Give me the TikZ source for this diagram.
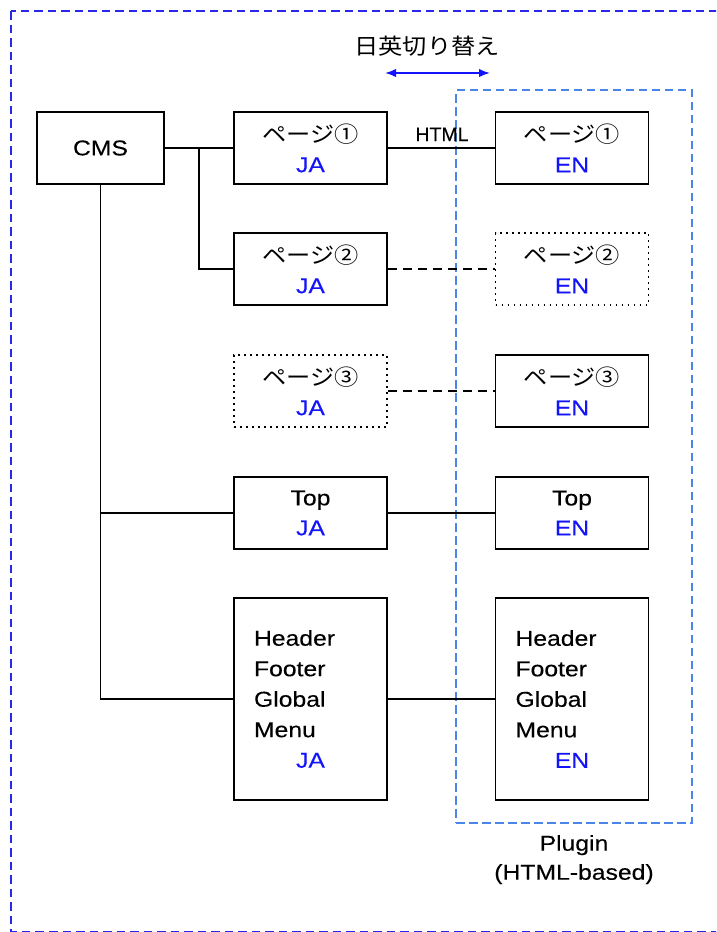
\documentclass[tikz,border=0pt]{standalone}
\usepackage{fontspec}
\setmainfont{Liberation Sans}[FakeStretch=1.15,FakeBold=0.25]
\newfontfamily\plainsans{Liberation Sans}[FakeBold=0.25]
\newfontfamily\jpfont{Noto Sans CJK JP}[FakeStretch=1.1]
\usetikzlibrary{arrows.meta}

\definecolor{langblue}{RGB}{20,20,250}
\definecolor{frameblue}{RGB}{40,40,235}
\definecolor{pluginblue}{RGB}{74,134,232}

% page label: Japanese word plus circled number
\newcommand\pg[1]{{\fontsize{22}{30}\jpfont ページ#1}}
\newcommand\lang[1]{\textcolor{langblue}{#1}}

\begin{document}
\begin{tikzpicture}[x=1pt,y=-1pt,
  box/.style={draw, line width=1.9pt, minimum width=153pt, minimum height=72pt,
    align=center, inner sep=0pt, font=\fontsize{21.5}{30}\selectfont},
  dotbox/.style={box, dash pattern=on 1.9pt off 4.1pt},
  tallbox/.style={box, minimum height=202pt, text width=113pt, align=left,
    font=\fontsize{21.5}{30.5}\selectfont},
  link/.style={line width=1.9pt},
  dlink/.style={link, dash pattern=on 9pt off 6pt},
  lbl/.style={font=\fontsize{21.5}{29}\selectfont, inner sep=0pt, anchor=base}
]
\useasboundingbox (0,0) rectangle (716,932);
\clip (0,0) rectangle (716,932);

% outer frame (continues past the right edge)
\draw[frameblue, line width=1.9pt, dash pattern=on 8.5pt off 5pt] (11,11) rectangle (760,931.5);

% plugin region
\node[draw=pluginblue, line width=1.9pt, dash pattern=on 8.5pt off 4.5pt,
  minimum width=236pt, minimum height=733pt, inner sep=0pt] (plugin) at (574,456.5) {};
\node[lbl] (plugA) at (574,850.7) {Plugin};
\node[lbl] (plugB) at (574,879.7) {(HTML-based)};

% language switch
\node[font=\fontsize{22}{22}\selectfont\jpfont, inner sep=0pt] (switch) at (427,46) {日英切り替え};
\coordinate (swl) at (385,73);
\coordinate (swr) at (490,73);
\draw[langblue, line width=1.8pt, {Latex[length=11pt,width=8.5pt]}-{Latex[length=11pt,width=8.5pt]}] (swl) -- (swr);

% CMS
\node[box, minimum width=127pt] (cms) at (100.5,148) {CMS};

% Japanese pages
\node[box] (p1ja) at (310.5,148) {\pg{①}\\\lang{JA}};
\node[box] (p2ja) at (310.5,269) {\pg{②}\\\lang{JA}};
\node[dotbox] (p3ja) at (310.5,391) {\pg{③}\\\lang{JA}};
\node[box] (topja) at (310.5,513) {Top\\\lang{JA}};
\node[tallbox] (hja) at (310.5,699) {Header\\Footer\\Global\\Menu\\\makebox[113pt][c]{\lang{JA}}};

% English pages
\node[box] (p1en) at (572,148) {\pg{①}\\\lang{EN}};
\node[dotbox] (p2en) at (572,269) {\pg{②}\\\lang{EN}};
\node[box] (p3en) at (572,391) {\pg{③}\\\lang{EN}};
\node[box] (topen) at (572,513) {Top\\\lang{EN}};
\node[tallbox] (hen) at (572,699) {Header\\Footer\\Global\\Menu\\\makebox[113pt][c]{\lang{EN}}};

% CMS tree
\coordinate (fork) at (199,148);
\draw[link] (cms.east) -- (p1ja.west);
\draw[link] (fork) |- (p2ja.west);
\draw[link] (cms.south) |- (topja.west);
\draw[link] (cms.south) |- (hja.west);

% JA to EN
\draw[link] (p1ja.east) -- (p1en.west);
\node[font=\fontsize{19.5}{19.5}\plainsans, inner sep=0pt, anchor=base] (html) at (442,141) {HTML};
\draw[dlink] (p2ja.east) -- (p2en.west);
\draw[dlink] (p3ja.east) -- (p3en.west);
\draw[link] (topja.east) -- (topen.west);
\draw[link] (hja.east) -- (hen.west);
\end{tikzpicture}
\end{document}
